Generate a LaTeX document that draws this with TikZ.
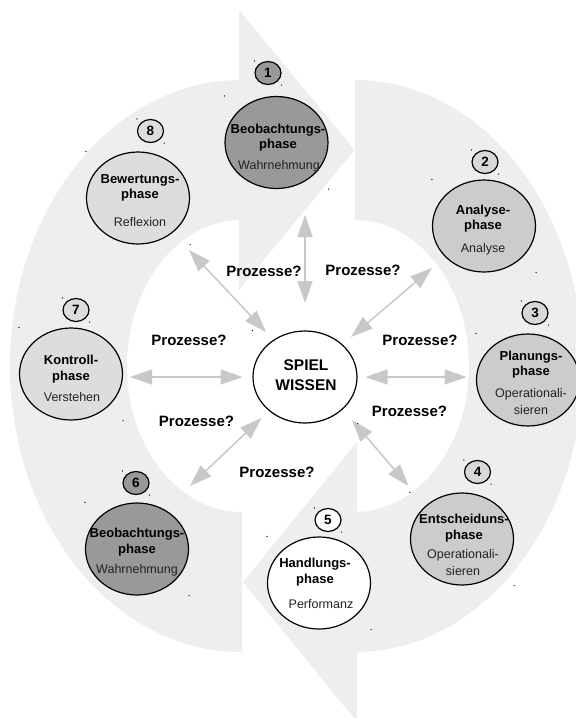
\documentclass[tikz,border=0pt]{standalone}
\usepackage{fontspec}
\setmainfont{Liberation Sans}
\usetikzlibrary{shapes.geometric,arrows.meta}
\definecolor{band}{HTML}{EEEEEE}
\definecolor{darkfill}{HTML}{999999}
\definecolor{midfill}{HTML}{CCCCCC}
\definecolor{lightfill}{HTML}{DDDDDD}
\definecolor{badgemid}{HTML}{D8D8D8}
\definecolor{arrgray}{HTML}{C8C8C8}
\definecolor{subtxt}{HTML}{222222}
\newcommand\cornerdots[1]{%
  \fill (#1.west |- #1.north) circle[radius=0.7];
  \fill (#1.east |- #1.south) circle[radius=0.7];}
\begin{document}
\begin{tikzpicture}[x=1pt,y=-1pt,
  phasenode/.style={ellipse, draw=black, line width=1.2pt, minimum width=103pt, minimum height=92pt, inner sep=0pt},
  centernode/.style={ellipse, draw=black, line width=1.2pt, fill=white, minimum width=104pt, minimum height=92pt, inner sep=0pt},
  badge/.style={ellipse, draw=black, line width=1.2pt, minimum width=26pt, minimum height=23pt, inner sep=0pt, font=\fontsize{13.5}{13.5}\selectfont\bfseries},
  ttl/.style={align=center, font=\fontsize{13}{15.5}\selectfont\bfseries, inner sep=0pt},
  subt/.style={align=center, font=\fontsize{12.5}{17}\selectfont, inner sep=0pt, text=subtxt},
  proz/.style={font=\fontsize{15}{15}\selectfont\bfseries, inner sep=0pt},
  link/.style={draw=arrgray, line width=1.5pt, {Triangle[length=22pt,width=15pt]}-{Triangle[length=22pt,width=15pt]}}
]
\useasboundingbox (0,0) rectangle (576,718);
\clip (0,0) rectangle (576,718);
\fill[white] (0,0) rectangle (576,718);
% left cycle arrow
\begin{scope}
  \clip (-20,-20) rectangle (242,740);
  \fill[band, even odd rule] (241,366) ellipse[x radius=231, y radius=286]
                              (241,366) ellipse[x radius=114, y radius=146];
\end{scope}
\fill[band] (239,10) -- (354.5,150) -- (239,290) -- cycle;
% right cycle arrow
\begin{scope}
  \clip (355,-20) rectangle (600,740);
  \fill[band, even odd rule] (355,366) ellipse[x radius=228, y radius=286]
                              (355,366) ellipse[x radius=114, y radius=146];
\end{scope}
\fill[band] (357,442) -- (243,582) -- (357,722) -- cycle;

% arrow end points
\coordinate (a1) at (305,215);   \coordinate (b1) at (305,303);
\coordinate (a2) at (189,250);   \coordinate (b2) at (266,332);
\coordinate (a3) at (432,268);   \coordinate (b3) at (351,337);
\coordinate (a4) at (130,377);   \coordinate (b4) at (242.5,377);
\coordinate (a5) at (365.5,377); \coordinate (b5) at (466.5,377);
\coordinate (a6) at (261.5,418); \coordinate (b6) at (190,486);
\coordinate (a7) at (352,420);   \coordinate (b7) at (408.5,486);
\foreach \i in {1,...,7} {\draw[link] (a\i) -- (b\i);}

% phase circles
\node[phasenode, fill=darkfill]  (p1) at (276.5,142.5) {};
\node[phasenode, fill=midfill]   (p2) at (484,226) {};
\node[phasenode, fill=midfill]   (p3) at (528,380) {};
\node[phasenode, fill=midfill]   (p4) at (462,539) {};
\node[phasenode, fill=white]     (p5) at (319,583) {};
\node[phasenode, fill=darkfill]  (p6) at (137,549) {};
\node[phasenode, fill=lightfill] (p7) at (71,374) {};
\node[phasenode, fill=lightfill] (p8) at (138,198) {};
\node[centernode] (sw) at (305,377) {};
\node[font=\fontsize{15.5}{19.5}\selectfont\bfseries, align=center, inner sep=0pt] (swt) at (306,375) {SPIEL\\WISSEN};

% badges
\node[badge, fill=darkfill]  (n1) at (268,73) {1};
\node[badge, fill=badgemid]  (n2) at (485,162) {2};
\node[badge, fill=badgemid]  (n3) at (535,313) {3};
\node[badge, fill=badgemid]  (n4) at (477.5,472) {4};
\node[badge, fill=white]     (n5) at (328,520) {5};
\node[badge, fill=darkfill]  (n6) at (136,483) {6};
\node[badge, fill=lightfill] (n7) at (76,310) {7};
\node[badge, fill=lightfill] (n8) at (150.5,131) {8};

% texts in circles
\node[ttl] (t1) at (278,137.5) {Beobachtungs-\\phase};
\node[subt] (s1) at (279,166.5) {Wahrnehmung};
\node[ttl] (t2) at (483,218.5) {Analyse-\\phase};
\node[subt] (s2) at (483,249) {Analyse};
\node[ttl] (t3) at (531,364.5) {Planungs-\\phase};
\node[subt] (s3) at (531,401.5) {Operationali-\\sieren};
\node[ttl] (t4) at (464,528) {Entscheiduns-\\phase};
\node[subt] (s4) at (463,563) {Operationali-\\sieren};
\node[ttl] (t5) at (315,572) {Handlungs-\\phase};
\node[subt] (s5) at (321,604) {Performanz};
\node[ttl] (t6) at (137,542) {Beobachtungs-\\phase};
\node[subt] (s6) at (137,570) {Wahrnehmung};
\node[ttl] (t7) at (71,369) {Kontroll-\\phase};
\node[subt] (s7) at (72,397) {Verstehen};
\node[ttl] (t8) at (140,188) {Bewertungs-\\phase};
\node[subt] (s8) at (140,222) {Reflexion};

% process labels
\node[proz] (q1) at (264,271) {Prozesse?};
\node[proz] (q2) at (363,270) {Prozesse?};
\node[proz] (q3) at (189,340) {Prozesse?};
\node[proz] (q4) at (420,340) {Prozesse?};
\node[proz] (q5) at (196.5,421) {Prozesse?};
\node[proz] (q6) at (409.5,411) {Prozesse?};
\node[proz] (q7) at (277,472) {Prozesse?};

% selection marks
\foreach \m in {p1,p2,p3,p4,p5,p6,p7,p8,sw,n1,n2,n3,n4,n5,n6,n7,n8} {\cornerdots{\m}}
\end{tikzpicture}
\end{document}
